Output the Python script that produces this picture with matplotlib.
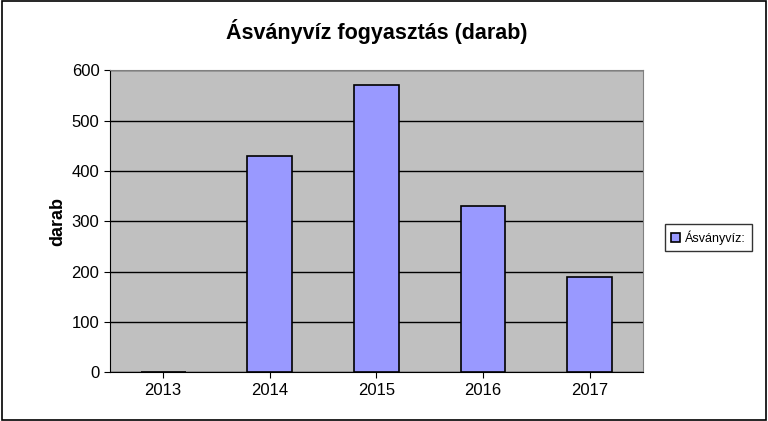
import matplotlib
matplotlib.use("Agg")
import matplotlib.pyplot as plt
from matplotlib.patches import Rectangle

years = ["2013", "2014", "2015", "2016", "2017"]
values = [0, 430, 570, 330, 190]
series_name = "Ásványvíz:"

plt.rcParams["font.family"] = "Liberation Sans"
fig = plt.figure(figsize=(7.68, 4.21), dpi=100)
fig.patches.append(Rectangle((0.002, 0.003), 0.996, 0.994, transform=fig.transFigure,
                             fill=False, edgecolor="black", linewidth=1.2))
ax = fig.add_axes([0.143, 0.116, 0.694, 0.717])
ax.set_facecolor("#c0c0c0")
x = range(len(years))
ax.bar(x, values, width=0.42, color="#9999ff", edgecolor="black", linewidth=1.2,
       label=series_name, zorder=3)
ax.set_xlim(-0.5, len(years) - 0.5)
ax.set_ylim(0, 600)
ax.set_yticks(range(0, 601, 100))
ax.set_xticks(list(x))
ax.set_xticklabels(years)
ax.yaxis.grid(True, color="black", linewidth=1, zorder=1)
ax.tick_params(labelsize=12, direction="out", length=4)
for s in ax.spines.values():
    s.set_color("#808080")
ax.spines["left"].set_color("black")
ax.spines["bottom"].set_color("black")
ax.set_ylabel("darab", fontsize=13, fontweight="bold")
fig.text(0.49, 0.925, "Ásványvíz fogyasztás (darab)", ha="center", va="center",
         fontsize=15.5, fontweight="bold")
leg = fig.legend(loc="center left", bbox_to_anchor=(0.858, 0.435), fontsize=9,
                 frameon=True, fancybox=False, edgecolor="black",
                 handlelength=0.7, handleheight=0.7, borderpad=0.5, handletextpad=0.4)
leg.get_frame().set_linewidth(1)
fig.savefig("out.png", dpi=100)
